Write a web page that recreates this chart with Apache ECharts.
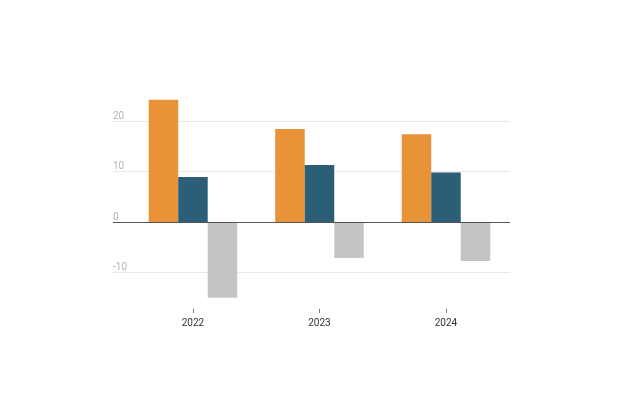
<!DOCTYPE html>
<html>
<head>
<meta charset="utf-8">
<script src="https://cdn.jsdelivr.net/npm/echarts@6/dist/echarts.min.js"></script>
<style>
  html, body { margin: 0; padding: 0; background: #fff; }
  #chart { width: 624px; height: 416px; }
</style>
</head>
<body>
<div id="chart"></div>
<script>
const years = ['2022', '2023', '2024'];
const seriesA = [24.2, 18.4, 17.4];
const seriesB = [8.9, 11.3, 9.8];
const seriesC = [-15.0, -7.1, -7.7];
const gridValues = [20, 10, -10];
const yTickLabels = [20, 10, 0, -10];

const chart = echarts.init(document.getElementById('chart'), null, { renderer: 'canvas' });

function toPoints(arr) { return arr.map((v, i) => [i, v]); }

const option = {
  animation: false,
  backgroundColor: '#ffffff',
  grid: { left: 113, right: 114, top: 95.75, bottom: 107.1, containLabel: false },
  xAxis: {
    type: 'value',
    min: -0.632,
    max: 2.506,
    axisLine: { show: true, onZero: false, lineStyle: { color: '#ffffff', opacity: 0 } },
    splitLine: { show: false },
    axisTick: {
      show: true,
      customValues: [0, 1, 2],
      length: 4,
      inside: false,
      lineStyle: { color: '#777777', width: 1, opacity: 1 }
    },
    axisLabel: {
      customValues: [0, 1, 2],
      formatter: (v) => years[Math.round(v)] || '',
      color: '#333',
      fontSize: 10,
      fontFamily: 'Roboto, sans-serif',
      margin: 10
    }
  },
  yAxis: {
    type: 'value',
    min: -17.2,
    max: 25,
    axisLine: { show: false },
    axisTick: { show: false },
    splitLine: { show: false },
    axisLabel: {
      customValues: yTickLabels,
      inside: true,
      margin: 0,
      align: 'left',
      verticalAlign: 'bottom',
      lineHeight: 8,
      padding: [0, 0, 1, 0],
      color: '#b4b4b4',
      fontSize: 10,
      fontFamily: 'Roboto, sans-serif'
    }
  },
  series: [
    {
      name: 'A', type: 'bar', data: toPoints(seriesA),
      barWidth: 29.5, barGap: '0%',
      itemStyle: { color: '#E99338' },
      markLine: {
        silent: true, symbol: 'none', label: { show: false },
        z: 1,
        data: gridValues.map(v => ({ yAxis: v, lineStyle: { color: '#e8e8e8', width: 1, type: 'solid' } }))
      },
      z: 2
    },
    {
      name: 'B', type: 'bar', data: toPoints(seriesB),
      barWidth: 29.5, barGap: '0%',
      itemStyle: { color: '#2C5E77' },
      z: 2
    },
    {
      name: 'C', type: 'bar', data: toPoints(seriesC),
      barWidth: 29.5, barGap: '0%',
      itemStyle: { color: '#C4C4C4' },
      markLine: {
        silent: true, symbol: 'none', label: { show: false },
        data: [{ yAxis: 0, lineStyle: { color: '#555', width: 1.2, type: 'solid' } }]
      },
      z: 3
    }
  ]
};
chart.setOption(option);
</script>
</body>
</html>
